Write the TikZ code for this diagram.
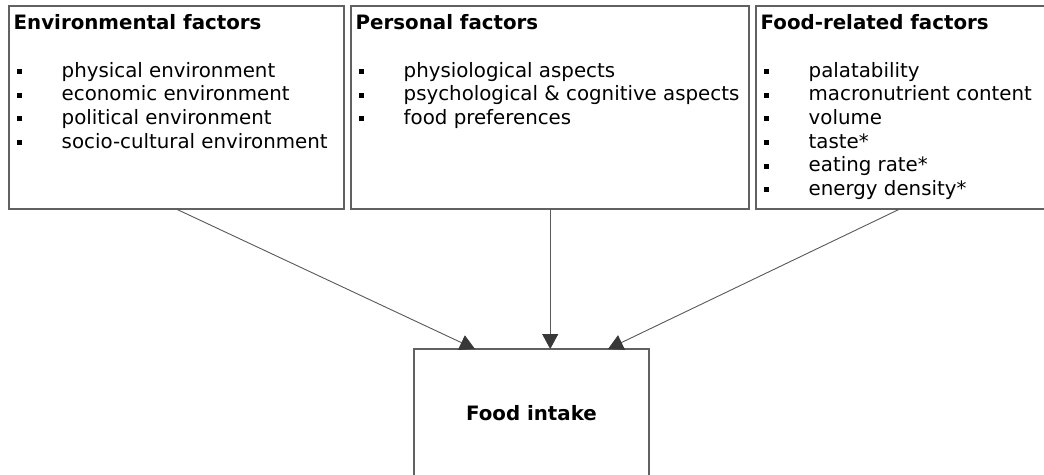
\documentclass[tikz,border=0pt]{standalone}
\usepackage{fontspec}
\setmainfont{DejaVu Sans}
\usetikzlibrary{arrows.meta,calc}
\newcommand\itm[1]{\par\hspace*{3.5pt}\makebox[44.5pt][l]{\rule[3pt]{5pt}{5pt}}#1}
\newcommand\boxtext[2]{\parbox[t]{#1}{\fontsize{19.8}{23.6}\selectfont #2}}
\begin{document}
\begin{tikzpicture}[x=1pt,y=-1pt,
  factor/.style={draw=black!62, line width=1.2pt, fill=white},
  txt/.style={anchor=base west, inner sep=0pt, font=\fontsize{19.8}{23.6}\selectfont},
  conn/.style={draw=black!65, line width=0.9pt, -{Triangle[length=15pt,width=16pt,color=black!78,fill=black!78]}}]
\clip (0,0) rectangle (1044,474);
\fill[white] (0,0) rectangle (1044,474);
% boxes
\draw[factor] (9,6) rectangle (344,209);
\node[inner sep=0pt, minimum width=335pt, minimum height=203pt, anchor=north west] (env) at (9,6) {};
\draw[factor] (351,6) rectangle (749,209);
\node[inner sep=0pt, minimum width=398pt, minimum height=203pt, anchor=north west] (pers) at (351,6) {};
\draw[factor] (756,6) rectangle (1052,209);
\node[inner sep=0pt, minimum width=296pt, minimum height=203pt, anchor=north west] (food) at (756,6) {};
\draw[factor] (414,349) rectangle (649,490);
\node[inner sep=0pt, minimum width=235pt, minimum height=141pt, anchor=north west] (intake) at (414,349) {};
% texts
\node[txt] (envt) at (13.5,29) {\boxtext{325pt}{\textbf{Environmental factors}\par\mbox{}\vspace{1pt}%
  \itm{physical environment}\itm{economic environment}\itm{political environment}\itm{socio-cultural environment}}};
\node[txt] (perst) at (355.5,29) {\boxtext{390pt}{\textbf{Personal factors}\par\mbox{}\vspace{1pt}%
  \itm{physiological aspects}\itm{psychological \& cognitive aspects}\itm{food preferences}}};
\node[txt] (foodt) at (760.5,29) {\boxtext{285pt}{\textbf{Food-related factors}\par\mbox{}\vspace{1pt}%
  \itm{palatability}\itm{macronutrient content}\itm{volume}\itm{taste*}\itm{eating rate*}\itm{energy density*}}};
\node[anchor=base, inner sep=0pt, font=\fontsize{19.8}{23.6}\selectfont\bfseries] (intaket) at (531.5,420.5) {Food intake};
% connectors
\draw[conn] ($(env.south west)+(168,0)$) -- ($(intake.north west)+(61,0)$);
\draw[conn] (pers.south) -- (pers.south |- intake.north);
\draw[conn] ($(food.south west)+(143,0)$) -- ($(intake.north west)+(194,0)$);
\end{tikzpicture}
\end{document}
